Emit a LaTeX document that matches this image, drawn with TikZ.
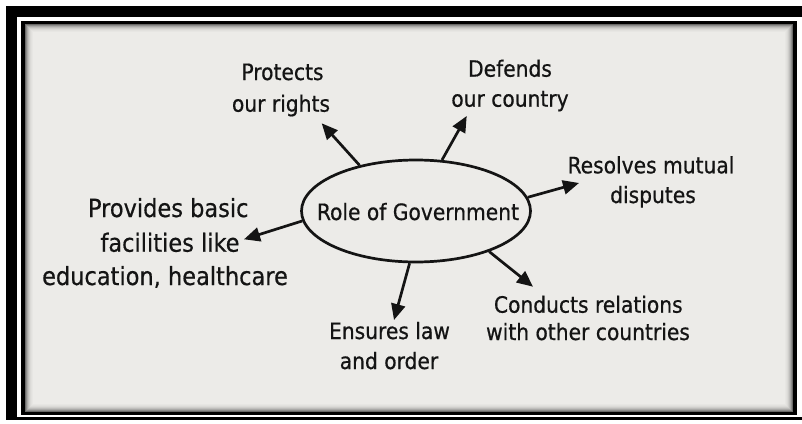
\documentclass[tikz,border=0pt]{standalone}
\usepackage{fontspec}
\setmainfont{DejaVu Sans Condensed}[FakeBold=0.6]
\usetikzlibrary{shapes.geometric,arrows.meta}
\definecolor{ink}{HTML}{141414}
\definecolor{paper}{HTML}{ECEBE8}
\begin{document}
\begin{tikzpicture}[x=1pt,y=-1pt,
  lbl/.style={font=\fontsize{22.5}{31}\selectfont, text=ink, inner sep=0pt, anchor=base},
  big/.style={lbl, font=\fontsize{25}{34}\selectfont},
  arr/.style={draw=ink, line width=2.7pt, -{Triangle[length=16pt,width=14pt]}},
  hub/.style={ellipse, draw=ink, line width=2.7pt, minimum width=229pt, minimum height=102pt, inner sep=0pt}
]
\fill[white] (0,0) rectangle (802,423);
\useasboundingbox (0,0) rectangle (802,423);
% outer frame
\fill[black] (6,6) rectangle (802,17);
\fill[black] (6,6) rectangle (17,420);
\fill[black] (6,417) rectangle (802,420);
% inner frame
\fill[black] (20.5,20.5) rectangle (797,415);
\fill[paper] (24.5,24) rectangle (793,411.5);
\foreach \i/\o in {0/0.55,1/0.4,2/0.28,3/0.19,4/0.12,5/0.07,6/0.04,7/0.02}
  \draw[black, opacity=\o, line width=1pt] (25+\i,24.5+\i) rectangle (792.5-\i,411-\i);

% hub
\node[hub] (g) at (416,211) {};
\node[lbl] (gt) at (418,220) {Role of Government};

% labels
\node[lbl] (p1) at (282.5,80) {Protects};
\node[lbl] (p2) at (281,111.7) {our rights};
\node[lbl] (d1) at (510,76.7) {Defends};
\node[lbl] (d2) at (510,106.7) {our country};
\node[lbl] (r1) at (651,173.3) {Resolves mutual};
\node[lbl] (r2) at (653,203) {disputes};
\node[big] (v1) at (168.3,217) {Provides basic};
\node[big] (v2) at (170,251.7) {facilities like};
\node[big] (v3) at (165,285) {education, healthcare};
\node[lbl] (e1) at (389.5,339) {Ensures law};
\node[lbl] (e2) at (389,369) {and order};
\node[lbl] (c1) at (588.3,312.7) {Conducts relations};
\node[lbl] (c2) at (588,340) {with other countries};

% arrow tips
\coordinate (tp) at (321.7,123.3);
\coordinate (td) at (466.7,116);
\coordinate (tr) at (579,183);
\coordinate (tv) at (244,239.3);
\coordinate (te) at (394,320);
\coordinate (tc) at (533,286.7);

\draw[arr] (g.141) -- (tp);
\draw[arr] (g.63) -- (td);
\draw[arr] (g.7) -- (tr);
\draw[arr] (g.185) -- (tv);
\draw[arr] (g.263) -- (te);
\draw[arr] (g.331) -- (tc);
\end{tikzpicture}
\end{document}
